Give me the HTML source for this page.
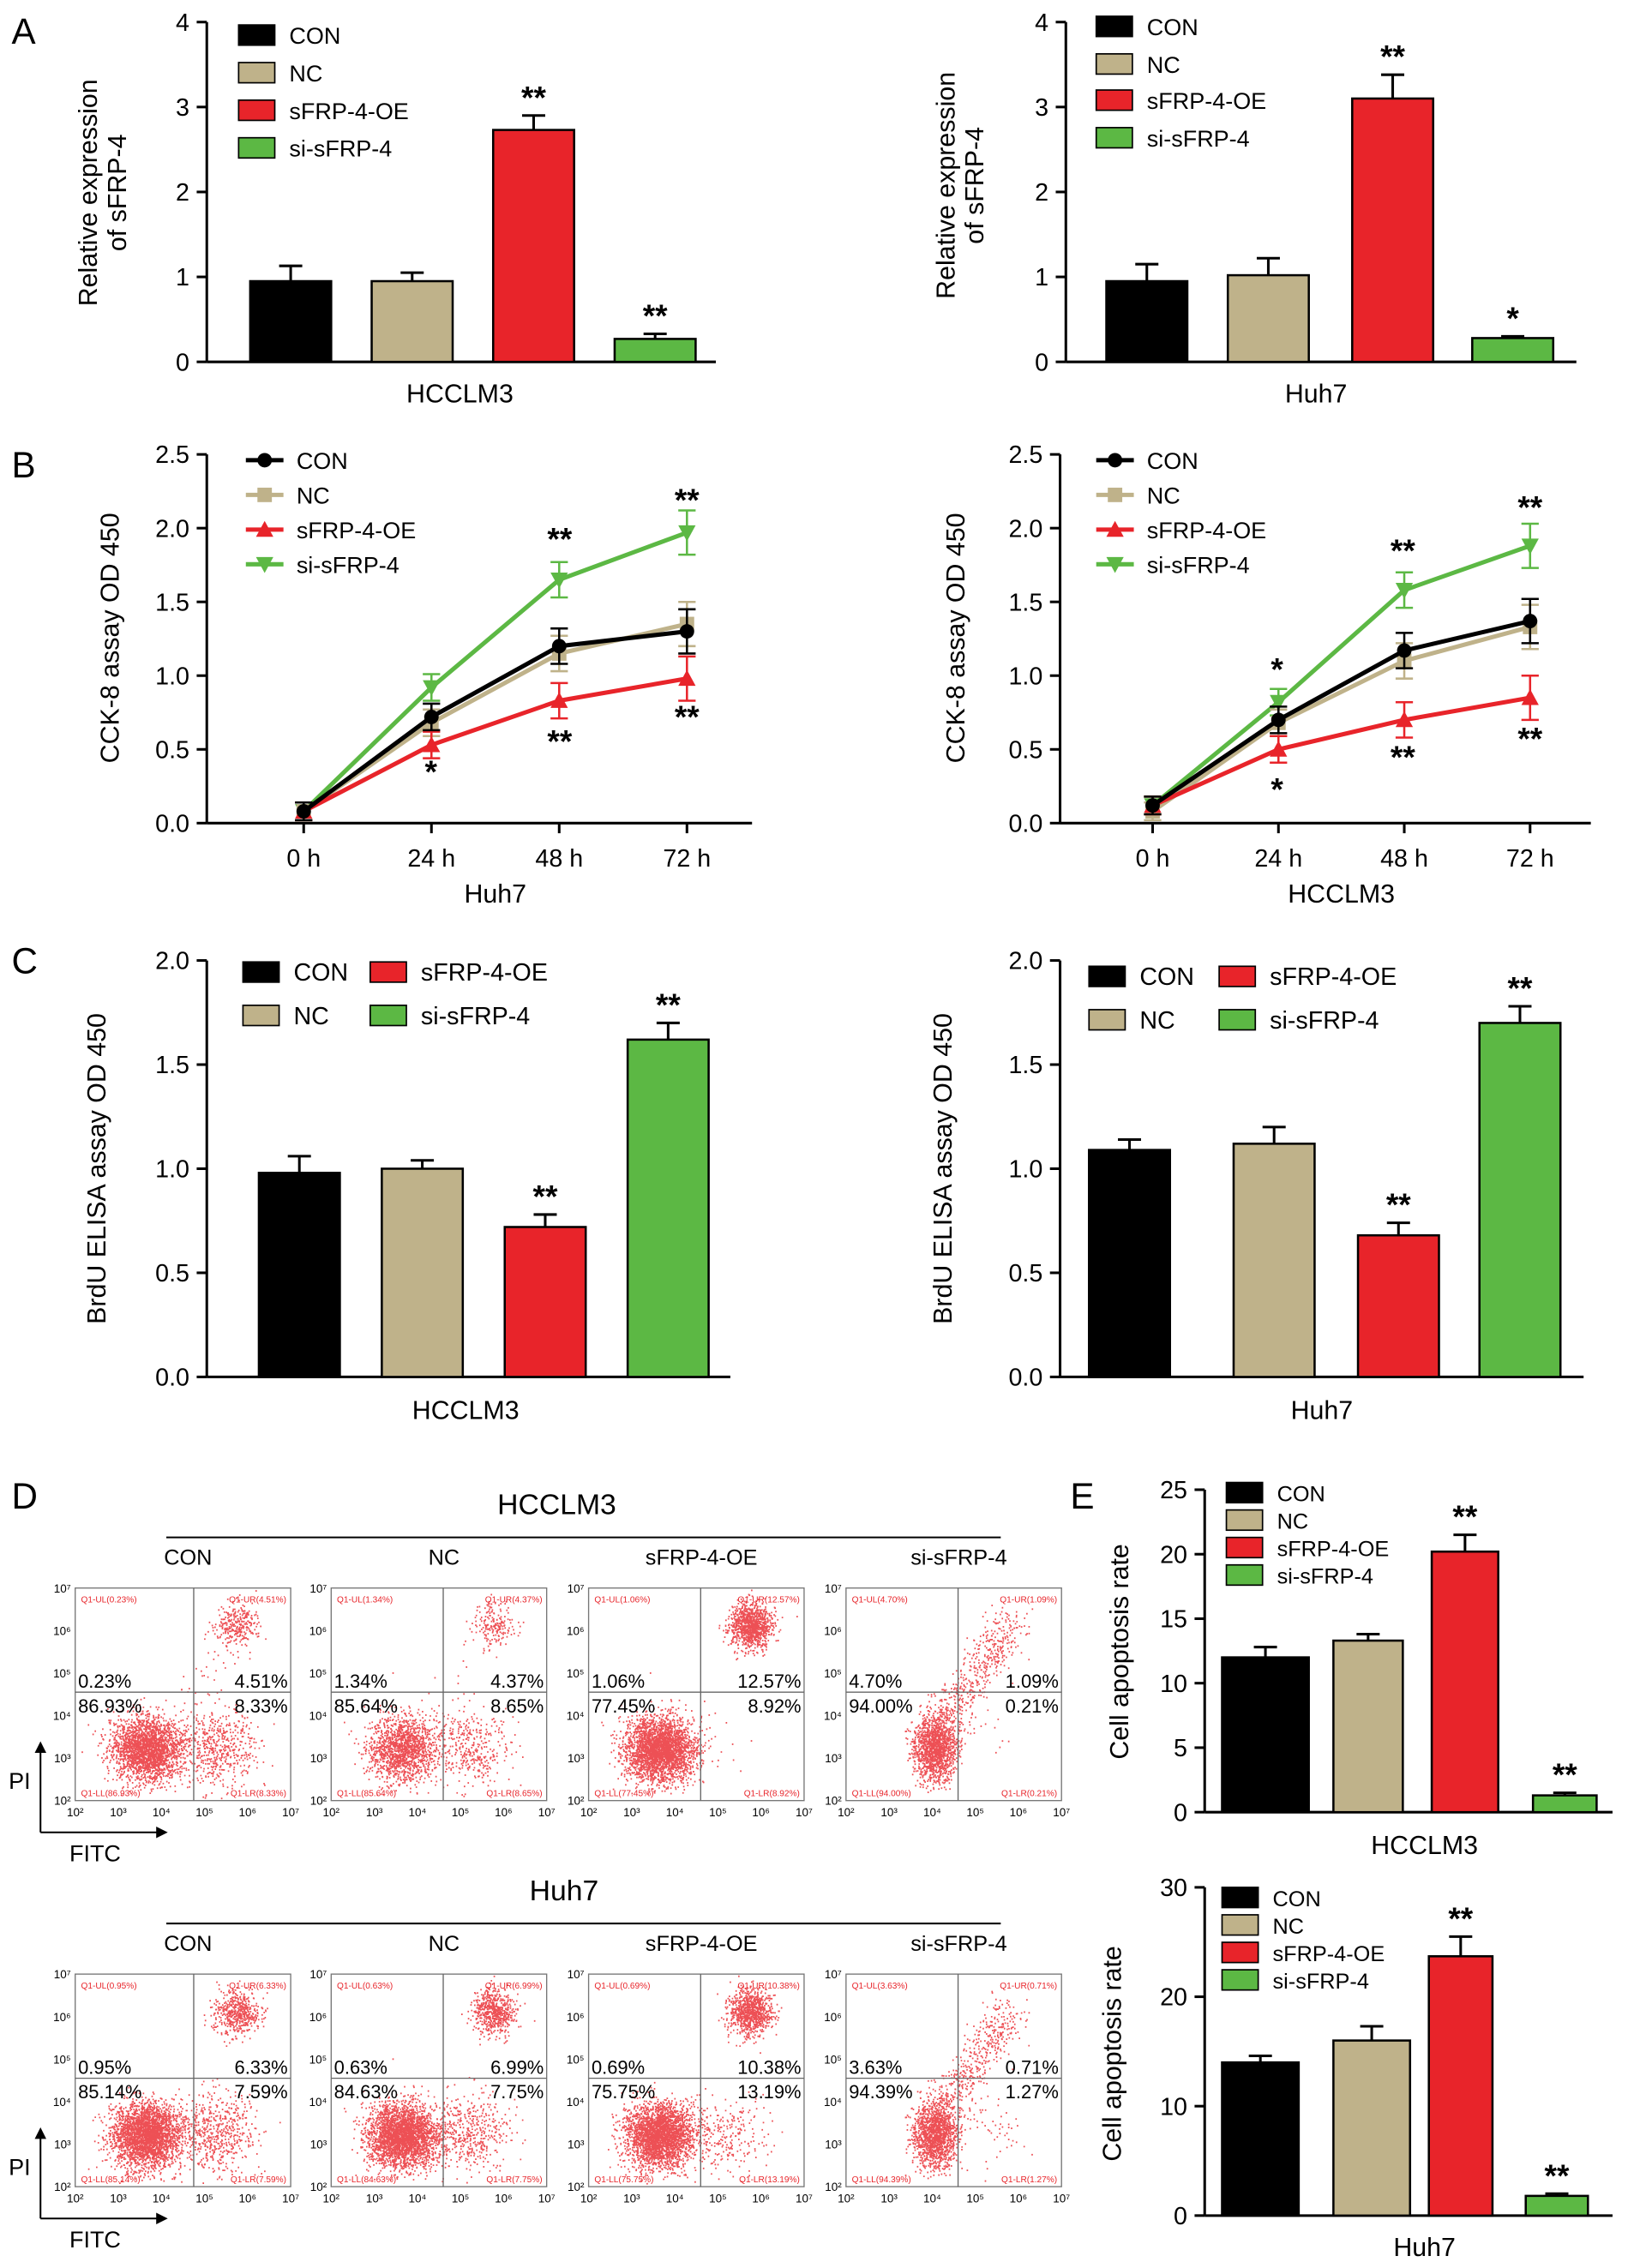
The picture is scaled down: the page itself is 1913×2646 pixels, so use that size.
<!DOCTYPE html>
<html><head><meta charset="utf-8"><style>
html,body{margin:0;padding:0;background:#fff}
svg{display:block;font-family:"Liberation Sans",Arial,sans-serif}
</style></head><body>
<svg id="fig" width="1913" height="2646" viewBox="0 0 1134 1568" xmlns="http://www.w3.org/2000/svg"></svg>
<script>
// ---- data ----
const groups = ["CON","NC","sFRP-4-OE","si-sFRP-4"];
const colors = ["#000000","#bfb28a","#e8242a","#5cb844"];
const aLeftVals = [0.95,0.95,2.73,0.27];
const aLeftErr = [0.18,0.1,0.17,0.06];
const aRightVals = [0.95,1.02,3.1,0.28];
const aRightErr = [0.2,0.2,0.28,0.02];
const bTimes = ["0 h","24 h","48 h","72 h"];
const bLeftCON = [0.08,0.72,1.2,1.3];
const bLeftNC = [0.08,0.68,1.15,1.35];
const bLeftOE = [0.08,0.53,0.83,0.98];
const bLeftSI = [0.08,0.92,1.65,1.97];
const bRightCON = [0.12,0.7,1.17,1.37];
const bRightNC = [0.08,0.68,1.1,1.33];
const bRightOE = [0.12,0.5,0.7,0.85];
const bRightSI = [0.12,0.82,1.58,1.88];
const cLeftVals = [0.98,1.0,0.72,1.62];
const cLeftErr = [0.08,0.04,0.06,0.08];
const cRightVals = [1.09,1.12,0.68,1.7];
const cRightErr = [0.05,0.08,0.06,0.08];
const eTopVals = [12,13.3,20.2,1.3];
const eTopErr = [0.8,0.5,1.3,0.2];
const eBotVals = [14,16,23.7,1.8];
const eBotErr = [0.6,1.3,1.8,0.2];
const flowTopUL = ["0.23%","1.34%","1.06%","4.70%"];
const flowTopUR = ["4.51%","4.37%","12.57%","1.09%"];
const flowTopLL = ["86.93%","85.64%","77.45%","94.00%"];
const flowTopLR = ["8.33%","8.65%","8.92%","0.21%"];
const flowBotUL = ["0.95%","0.63%","0.69%","3.63%"];
const flowBotUR = ["6.33%","6.99%","10.38%","0.71%"];
const flowBotLL = ["85.14%","84.63%","75.75%","94.39%"];
const flowBotLR = ["7.59%","7.75%","13.19%","1.27%"];

const NS="http://www.w3.org/2000/svg";
const svg=document.getElementById('fig');
function el(tag,attrs,parent,text){const e=document.createElementNS(NS,tag);for(const k in attrs)e.setAttribute(k,attrs[k]);if(text!==undefined)e.textContent=text;(parent||svg).appendChild(e);return e;}
function txt(x,y,s,size,name,opts){opts=opts||{};const t=el('text',{x:x,y:y,'font-size':size,'text-anchor':opts.anchor||'start',fill:opts.fill||'#000','font-weight':opts.bold?'bold':'normal'},opts.parent,s);


if(opts.rot)t.setAttribute('transform','rotate(-90 '+x+' '+y+')');return t;}
function line(x1,y1,x2,y2,w,parent,c){return el('line',{x1:x1,y1:y1,x2:x2,y2:y2,stroke:c||'#000','stroke-width':w||1.6},parent);}

[["A",8,30],["B",8,330],["C",8,673],["D",8,1043],["E",740,1043]].forEach(p=>txt(p[1],p[2],p[0],25,'panel-label-'+p[0].toLowerCase()));

function barChart(o){
  const g=el('g',{});
  
  
  const y=v=>o.y0-(v/o.ymax)*(o.y0-o.ytop);
  line(o.ax,o.ytop,o.ax,o.y0,1.8,g);
  line(o.ax,o.y0,o.axEnd,o.y0,1.8,g);
  o.ticks.forEach(t=>{line(o.ax-7,y(t),o.ax,y(t),1.8,g);txt(o.ax-12,y(t)+6,o.tickFmt?o.tickFmt(t):String(t),17,'y-tick-label',{anchor:'end',parent:g});});
  o.vals.forEach((v,i)=>{
    const x0=o.bx[i][0],x1=o.bx[i][1],cx=(x0+x1)/2;
    const top=y(v+o.err[i]);
    line(cx,y(v),cx,top,1.8,g);line(cx-8,top,cx+8,top,1.8,g);
    const r=el('rect',{x:x0,y:y(v),width:x1-x0,height:o.y0-y(v),fill:colors[i],stroke:'#000','stroke-width':1.5},g);
    
    
    if(o.stars[i])txt(cx,top-5,o.stars[i],22,'significance-mark',{anchor:'middle',parent:g,bold:true});
  });
  txt(o.xlab[0],o.xlab[1],o.xlabel,18,'x-axis-label',{anchor:'middle',parent:g});
  o.ytitle.forEach((t,i)=>txt(o.yt[0]+i*20,o.yt[1],t,18,'y-axis-title',{anchor:'middle',parent:g,rot:true}));
  o.legend.forEach((L,i)=>{
    const r=el('rect',{x:L[0],y:L[1]-7,width:o.lw||25,height:14,fill:colors[i],stroke:'#000','stroke-width':1},g);
    
    
    txt(L[0]+(o.lw||25)+10,L[1]+6,groups[i],o.lfs||16,'legend-entry',{parent:g});
  });
}
barChart({name:'chart-a-hcclm3',ax:143,axEnd:495,y0:250,ytop:15,ymax:4,ticks:[0,1,2,3,4],vals:aLeftVals,err:aLeftErr,
 bx:[[173,229],[257,313],[341,397],[425,481]],stars:["","","**","**"],xlabel:"HCCLM3",xlab:[318,278],
 ytitle:["Relative expression","of sFRP-4"],yt:[67,133],legend:[[165,24],[165,50],[165,76],[165,102]]});
barChart({name:'chart-a-huh7',ax:737,axEnd:1090,y0:250,ytop:15,ymax:4,ticks:[0,1,2,3,4],vals:aRightVals,err:aRightErr,
 bx:[[765,821],[849,905],[935,991],[1018,1074]],stars:["","","**","*"],xlabel:"Huh7",xlab:[910,278],
 ytitle:["Relative expression","of sFRP-4"],yt:[660,128],legend:[[758,18],[758,44],[758,69],[758,95]]});
const f1=t=>t.toFixed(1);
barChart({name:'chart-c-hcclm3',ax:143,axEnd:505,y0:952,ytop:664,ymax:2,ticks:[0,0.5,1,1.5,2],tickFmt:f1,vals:cLeftVals,err:cLeftErr,
 bx:[[179,235],[264,320],[349,405],[434,490]],stars:["","","**","**"],xlabel:"HCCLM3",xlab:[322,981],
 ytitle:["BrdU ELISA assay OD 450"],yt:[73,808],legend:[[168,672],[168,702],[256,672],[256,702]],lfs:17});
barChart({name:'chart-c-huh7',ax:733,axEnd:1095,y0:952,ytop:664,ymax:2,ticks:[0,0.5,1,1.5,2],tickFmt:f1,vals:cRightVals,err:cRightErr,
 bx:[[753,809],[853,909],[939,995],[1023,1079]],stars:["","","**","**"],xlabel:"Huh7",xlab:[914,981],
 ytitle:["BrdU ELISA assay OD 450"],yt:[658,808],legend:[[753,675],[753,705],[843,675],[843,705]],lfs:17});
barChart({name:'chart-e-hcclm3',ax:833,axEnd:1115,y0:1253,ytop:1030,ymax:25,ticks:[0,5,10,15,20,25],vals:eTopVals,err:eTopErr,
 bx:[[845,905],[922,970],[990,1036],[1060,1104]],stars:["","","**","**"],xlabel:"HCCLM3",xlab:[985,1282],
 ytitle:["Cell apoptosis rate"],yt:[780,1142],legend:[[848,1032],[848,1051],[848,1070],[848,1089]],lfs:15});
barChart({name:'chart-e-huh7',ax:833,axEnd:1115,y0:1532,ytop:1305,ymax:30,ticks:[0,10,20,30],vals:eBotVals,err:eBotErr,
 bx:[[845,898],[922,975],[988,1032],[1055,1098]],stars:["","","**","**"],xlabel:"Huh7",xlab:[985,1560],
 ytitle:["Cell apoptosis rate"],yt:[775,1420],legend:[[845,1312],[845,1331],[845,1350],[845,1369]],lfs:15});

function lineChart(o){
  const g=el('g',{});
  
  
  const y=v=>o.y0-(v/2.5)*(o.y0-o.ytop);
  const x=i=>o.xs[0]+i*(o.xs[1]-o.xs[0])/3;
  line(o.ax,o.ytop,o.ax,o.y0,1.8,g);line(o.ax,o.y0,o.axEnd,o.y0,1.8,g);
  [0,0.5,1,1.5,2,2.5].forEach(t=>{line(o.ax-7,y(t),o.ax,y(t),1.8,g);txt(o.ax-12,y(t)+6,t.toFixed(1),17,'y-tick-label',{anchor:'end',parent:g});});
  bTimes.forEach((t,i)=>{line(x(i),o.y0,x(i),o.y0+7,1.8,g);txt(x(i),o.y0+30,t,17,'x-tick-label',{anchor:'middle',parent:g});});
  const order=[3,1,2,0];
  order.forEach(s=>{
    const d=o.series[s];
    const pts=d.map((v,i)=>x(i)+','+y(v)).join(' ');
    const p=el('polyline',{points:pts,fill:'none',stroke:colors[s],'stroke-width':3},g);
    
    
    d.forEach((v,i)=>{
      const e=0.06+0.03*i;
      line(x(i),y(v-e),x(i),y(v+e),1.5,g,colors[s]);line(x(i)-6,y(v+e),x(i)+6,y(v+e),1.5,g,colors[s]);line(x(i)-6,y(v-e),x(i)+6,y(v-e),1.5,g,colors[s]);
      marker(g,s,x(i),y(v));
    });
  });
  o.stars.forEach(s=>txt(s[0],s[1],s[2],22,'significance-mark',{anchor:'middle',parent:g,bold:true}));
  txt((o.xs[0]+o.xs[1])/2,o.y0+55,o.xlabel,18,'x-axis-label',{anchor:'middle',parent:g});
  txt(o.yt,441,"CCK-8 assay OD 450",18,'y-axis-title',{anchor:'middle',parent:g,rot:true});
  [0,1,2,3].forEach(s=>{const ly=o.leg[1]+s*24;line(o.leg[0],ly,o.leg[0]+26,ly,3,g,colors[s]);marker(g,s,o.leg[0]+13,ly);txt(o.leg[0]+35,ly+6,groups[s],16,'legend-entry',{parent:g});});
}
function marker(g,s,cx,cy){
  let m;
  if(s===0)m=el('circle',{cx:cx,cy:cy,r:5,fill:colors[0]},g);
  else if(s===1)m=el('rect',{x:cx-5,y:cy-5,width:10,height:10,fill:colors[1]},g);
  else if(s===2)m=el('polygon',{points:`${cx},${cy-6} ${cx-6},${cy+5} ${cx+6},${cy+5}`,fill:colors[2]},g);
  else m=el('polygon',{points:`${cx},${cy+6} ${cx-6},${cy-5} ${cx+6},${cy-5}`,fill:colors[3]},g);
  
  
}
lineChart({name:'chart-b-huh7',ax:143,axEnd:520,y0:569,ytop:314,xs:[210,475],series:[bLeftCON,bLeftNC,bLeftOE,bLeftSI],xlabel:"Huh7",yt:82,leg:[170,318],
 stars:[[387,380,"**"],[475,353,"**"],[298,541,"*"],[387,520,"**"],[475,503,"**"]]});
lineChart({name:'chart-b-hcclm3',ax:733,axEnd:1100,y0:569,ytop:314,xs:[797,1058],series:[bRightCON,bRightNC,bRightOE,bRightSI],xlabel:"HCCLM3",yt:667,leg:[758,318],
 stars:[[883,470,"*"],[970,388,"**"],[1058,358,"**"],[883,553,"*"],[970,531,"**"],[1058,518,"**"]]});

let seed=12345;function rnd(){seed=(seed*1103515245+12345)%2147483648;return seed/2147483648;}
function gauss(){return Math.sqrt(-2*Math.log(rnd()+1e-9))*Math.cos(2*Math.PI*rnd());}
const boxX=[52,229,407,585];
function flowRow(top,title,titleX,UL,UR,LL,LR,rowName){
  txt(titleX,top-51,title,20,'flow-row-title',{anchor:'middle'});
  line(115,top-35,692,top-35,1.2);
  const heads=["CON","NC","sFRP-4-OE","si-sFRP-4"];
  boxX.forEach((bx,k)=>{
    const g=el('g',{});
    
    
    const w=149,h=147;
    txt(bx+78,top-16,heads[k],15,'plot-title',{anchor:'middle',parent:g});
    el('rect',{x:bx,y:top,width:w,height:h,fill:'#fff',stroke:'#777','stroke-width':0.8},g);
    const vx=bx+w*(k==0?0.55:0.52),hy=top+h*0.49;
    const f=parseFloat(UR[k])/100, fl=parseFloat(LR[k])/100;
    let d='';
    const N=4000;
    for(let i=0;i<N;i++){
      let px,py;const r=rnd();
      if(r<0.72){px=bx+w*(0.33+(k==3?0.08:0)+(k==3?0.05:0.08)*gauss());py=top+h*(0.76+0.075*gauss());}
      else if(r<0.72+f*2.2){px=bx+w*(0.75+0.05*gauss());py=top+h*(0.18+0.05*gauss());}
      else if(r<0.72+f*2.2+fl*2){px=bx+w*(0.65+0.09*gauss());py=top+h*(0.75+0.09*gauss());}
      else {const t=rnd();px=bx+w*(0.4+0.35*t+0.05*gauss());py=top+h*(0.7-0.5*t+0.05*gauss());}
      if(px<bx+1||px>bx+w-1||py<top+1||py>top+h-1)continue;
      d+=`M${px.toFixed(1)} ${py.toFixed(1)}h1`;
    }
    el('path',{d:d,stroke:'#e8242a','stroke-width':1.1,'stroke-opacity':0.8,fill:'none'},g);
    line(vx,top,vx,top+h,0.8,g,'#666');line(bx,hy,bx+w,hy,0.8,g,'#666');
    txt(bx+2,hy-3,UL[k],13,'quadrant-ul',{parent:g});
    txt(bx+w-2,hy-3,UR[k],13,'quadrant-ur',{parent:g,anchor:'end'});
    txt(bx+2,hy+14,LL[k],13,'quadrant-ll',{parent:g});
    txt(bx+w-2,hy+14,LR[k],13,'quadrant-lr',{parent:g,anchor:'end'});
    txt(bx+4,top+10,"Q1-UL("+UL[k]+")",6,'quadrant-tag',{parent:g,fill:'#e8242a'});
    txt(bx+w-3,top+10,"Q1-UR("+UR[k]+")",6,'quadrant-tag',{parent:g,fill:'#e8242a',anchor:'end'});
    txt(bx+4,top+h-3,"Q1-LL("+LL[k]+")",6,'quadrant-tag',{parent:g,fill:'#e8242a'});
    txt(bx+w-3,top+h-3,"Q1-LR("+LR[k]+")",6,'quadrant-tag',{parent:g,fill:'#e8242a',anchor:'end'});
    for(let e=2;e<=7;e++){
      const yy=top+h-(e-2)*h/5, xx=bx+(e-2)*w/5;
      txt(bx-3,yy+3,"10"+["²","³","⁴","⁵","⁶","⁷"][e-2],8,'y-tick-label',{parent:g,anchor:'end'});
      txt(xx,top+h+11,"10"+["²","³","⁴","⁵","⁶","⁷"][e-2],8,'x-tick-label',{parent:g,anchor:'middle'});
    }
  });
  const ay=top+h0+22;
  line(28,ay,28,ay-58,1.2);el('polygon',{points:`28,${ay-63} 24,${ay-55} 32,${ay-55}`,fill:'#000'});
  line(28,ay,110,ay,1.2);el('polygon',{points:`116,${ay} 108,${ay-4} 108,${ay+4}`,fill:'#000'});
  txt(6,ay-30,"PI",16,'y-axis-title');
  txt(48,ay+20,"FITC",16,'x-axis-title');
}
const h0=147;
flowRow(1098,"HCCLM3",385,flowTopUL,flowTopUR,flowTopLL,flowTopLR,'flow-hcclm3');
flowRow(1365,"Huh7",390,flowBotUL,flowBotUR,flowBotLL,flowBotLR,'flow-huh7');
</script>
</body></html>
